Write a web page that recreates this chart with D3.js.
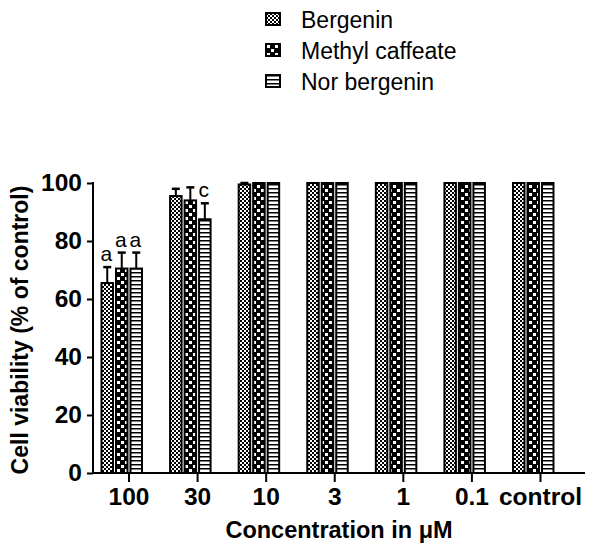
<!DOCTYPE html>
<html>
<head>
<meta charset="utf-8">
<script src="https://cdn.jsdelivr.net/npm/d3@7"></script>
<style>
  html, body { margin: 0; padding: 0; background: #fff; }
  svg { display: block; font-family: "Liberation Sans", Arial, sans-serif; }
</style>
</head>
<body>
<svg id="chart" width="598" height="545"></svg>
<script>
// Concentrations (µM) along the x axis
const categories = ["100", "30", "10", "3", "1", "0.1", "control"];
const seriesNames = ["Bergenin", "Methyl caffeate", "Nor bergenin"];

// Cell viability (% of control), mean and upper SD
const bergenin      = [65.5, 95.5, 99.5, 100, 100, 100, 100];
const bergeninErr   = [5.5, 2.5, 0.5, 0, 0, 0, 0];
const methylCaffeate    = [70.5, 94, 100, 100, 100, 100, 100];
const methylCaffeateErr = [5.5, 4.5, 0, 0, 0, 0, 0];
const norBergenin    = [70.5, 87.5, 100, 100, 100, 100, 100];
const norBergeninErr = [5.5, 5.5, 0, 0, 0, 0, 0];

// Significance letters: [category, series index, letter]
const sigLetters = [["100", 0, "a"], ["100", 1, "a"], ["100", 2, "a"], ["30", 2, "c"]];

const yTicks = [0, 20, 40, 60, 80, 100];

const series = [
  { name: seriesNames[0], values: bergenin, err: bergeninErr, fill: "url(#pat-berg)" },
  { name: seriesNames[1], values: methylCaffeate, err: methylCaffeateErr, fill: "url(#pat-meth)" },
  { name: seriesNames[2], values: norBergenin, err: norBergeninErr, fill: "url(#pat-nor)" }
];

const FONT = "Liberation Sans, Arial, sans-serif";
const svg = d3.select("#chart");

// Fill patterns
const defs = svg.append("defs");
// fine checkerboard
const p1 = defs.append("pattern").attr("id", "pat-berg").attr("patternUnits", "userSpaceOnUse")
  .attr("width", 4).attr("height", 4);
p1.append("rect").attr("width", 4).attr("height", 4).attr("fill", "#fff");
p1.append("rect").attr("x", 0).attr("y", 0).attr("width", 2).attr("height", 2).attr("fill", "#000");
p1.append("rect").attr("x", 2).attr("y", 2).attr("width", 2).attr("height", 2).attr("fill", "#000");
// coarse checkerboard
const p2 = defs.append("pattern").attr("id", "pat-meth").attr("patternUnits", "userSpaceOnUse")
  .attr("width", 8).attr("height", 8);
p2.append("rect").attr("width", 8).attr("height", 8).attr("fill", "#000");
p2.append("rect").attr("x", 1).attr("y", 1).attr("width", 3).attr("height", 3).attr("fill", "#fff");
p2.append("rect").attr("x", 5).attr("y", 5).attr("width", 3).attr("height", 3).attr("fill", "#fff");
// horizontal stripes
const p3 = defs.append("pattern").attr("id", "pat-nor").attr("patternUnits", "userSpaceOnUse")
  .attr("width", 4).attr("height", 4);
p3.append("rect").attr("width", 4).attr("height", 4).attr("fill", "#fff");
p3.append("rect").attr("x", 0).attr("y", 0).attr("width", 4).attr("height", 1.5).attr("fill", "#000");

// Scales
const y = d3.scaleLinear().domain([0, 100]).range([473, 183]);
const x = d3.scalePoint().domain(categories).range([128.5, 540]);
const barW = 11.5, barStep = 14.5, groupOffset = -27;

// Bars
const g = svg.append("g");
series.forEach((s, si) => {
  const bx = c => x(c) + groupOffset + si * barStep;
  const rows = categories.map((c, i) => ({ c, v: s.values[i], e: s.err[i] }));
  g.selectAll(null).data(rows)
    .join("rect")
    .attr("x", d => bx(d.c))
    .attr("y", d => y(d.v))
    .attr("width", barW)
    .attr("height", d => y(0) - y(d.v))
    .attr("fill", s.fill)
    .attr("stroke", "#000")
    .attr("stroke-width", 2);
  // upper error bars
  const eb = rows.filter(d => d.e > 0);
  g.selectAll(null).data(eb).join("line")
    .attr("x1", d => bx(d.c) + barW / 2).attr("x2", d => bx(d.c) + barW / 2)
    .attr("y1", d => y(d.v)).attr("y2", d => y(d.v + d.e))
    .attr("stroke", "#000").attr("stroke-width", 2);
  g.selectAll(null).data(eb).join("line")
    .attr("x1", d => bx(d.c) + barW / 2 - 4).attr("x2", d => bx(d.c) + barW / 2 + 4)
    .attr("y1", d => y(d.v + d.e)).attr("y2", d => y(d.v + d.e))
    .attr("stroke", "#000").attr("stroke-width", 2.5);
});

// Significance letters
sigLetters.forEach(([c, si, letter]) => {
  const s = series[si];
  const i = categories.indexOf(c);
  svg.append("text")
    .attr("x", x(c) + groupOffset + si * barStep + barW / 2 - 1)
    .attr("y", y(s.values[i] + s.err[i]) - 6)
    .attr("text-anchor", "middle")
    .attr("font-size", 21)
    .text(letter);
});

// Axes
const yAxis = d3.axisLeft(y).tickValues(yTicks).tickSize(6).tickPadding(5).tickSizeOuter(0);
const ya = svg.append("g").attr("transform", "translate(93,0)").call(yAxis);
ya.attr("font-family", FONT);
ya.select(".domain").attr("stroke-width", 2).attr("d", "M0,182V474");
ya.selectAll(".tick line").attr("stroke-width", 2);
ya.selectAll(".tick text").attr("font-size", 24.5).attr("font-weight", "bold")
  .attr("font-family", FONT).attr("fill", "#000");

const xAxis = d3.axisBottom(x).tickSize(9).tickPadding(6).tickSizeOuter(0);
const xa = svg.append("g").attr("transform", "translate(0,473)").call(xAxis);
xa.attr("font-family", FONT);
xa.select(".domain").attr("stroke-width", 2).attr("d", "M92,0H585");
xa.selectAll(".tick line").attr("stroke-width", 2);
xa.selectAll(".tick text").attr("font-size", 24.5).attr("font-weight", "bold")
  .attr("font-family", FONT).attr("fill", "#000");

// Axis titles
svg.append("text")
  .attr("transform", "translate(28,330) rotate(-90)")
  .attr("text-anchor", "middle")
  .attr("font-size", 23).attr("font-weight", "bold")
  .text("Cell viability (% of control)");
svg.append("text")
  .attr("x", 339).attr("y", 538)
  .attr("text-anchor", "middle")
  .attr("font-size", 23.5).attr("font-weight", "bold")
  .text("Concentration in \u03BCM");

// Legend
const lg = svg.append("g").attr("transform", "translate(266,13)");
series.forEach((s, i) => {
  const row = lg.append("g").attr("transform", `translate(0,${i * 31})`);
  row.append("rect").attr("width", 14).attr("height", 12)
    .attr("fill", s.fill).attr("stroke", "#000").attr("stroke-width", 2);
  row.append("text").attr("x", 35).attr("y", 15)
    .attr("font-size", 23).text(s.name);
});
</script>
</body>
</html>
